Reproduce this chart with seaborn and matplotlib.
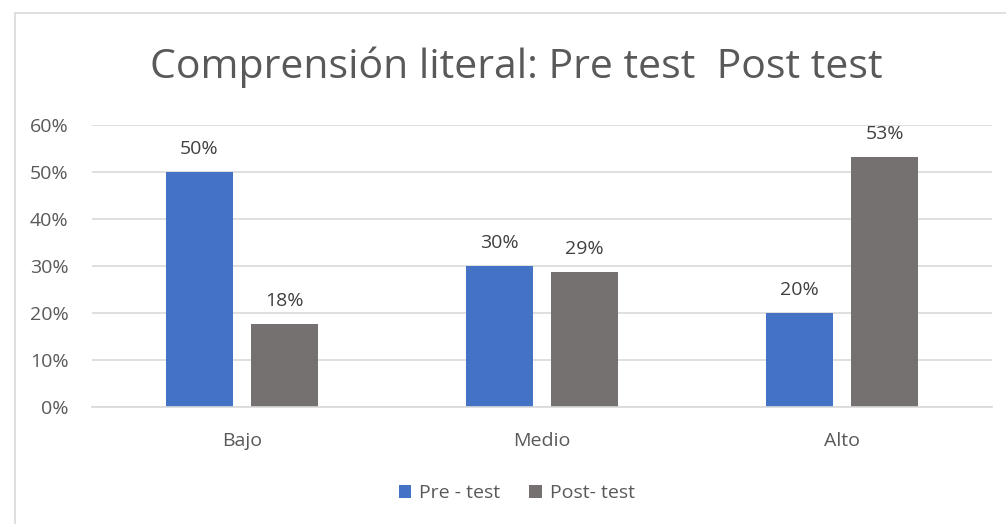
import matplotlib
matplotlib.use("Agg")
import matplotlib.pyplot as plt
import seaborn as sns
import pandas as pd
from matplotlib.patches import Rectangle
from matplotlib.ticker import PercentFormatter

categories = ["Bajo", "Medio", "Alto"]
series_names = ["Pre - test", "Post- test"]
pre_test = [0.50, 0.30, 0.20]
post_test = [0.176, 0.288, 0.532]
y_ticks = [0, 0.1, 0.2, 0.3, 0.4, 0.5, 0.6]
title = "Comprensión literal: Pre test  Post test"

df = pd.DataFrame({
    "Nivel": categories * 2,
    "Serie": [series_names[0]] * 3 + [series_names[1]] * 3,
    "Valor": pre_test + post_test,
})

sns.set_theme(style="white")
plt.rcParams["font.family"] = ["Open Sans", "DejaVu Sans"]

text_color = "#595959"
grid_color = "#d9d9d9"
colors = {"Pre - test": "#4472c4", "Post- test": "#767171"}
fs = 14

fig = plt.figure(figsize=(10.06, 5.24), dpi=100)
ax = fig.add_axes([92 / 1006, 117 / 524, 900 / 1006, 282 / 524])

sns.barplot(data=df, x="Nivel", y="Valor", hue="Serie", palette=colors,
            width=0.57, gap=0.22, ax=ax, legend=True, saturation=1,
            linewidth=0)

ax.set_ylim(0, 0.6)
ax.set_xlim(-0.5, 2.5)
ax.set_yticks(y_ticks)
ax.yaxis.set_major_formatter(PercentFormatter(1.0, decimals=0))
ax.grid(axis="y", color=grid_color, linewidth=1.2)
ax.set_axisbelow(True)
for s in ["top", "right", "left"]:
    ax.spines[s].set_visible(False)
ax.spines["bottom"].set_color(grid_color)
ax.spines["bottom"].set_linewidth(1.2)
ax.tick_params(axis="both", length=0, colors=text_color, labelsize=fs)
ax.tick_params(axis="y", pad=17)
ax.tick_params(axis="x", pad=18)
ax.set_xlabel("")
ax.set_ylabel("")

for cont in ax.containers:
    ax.bar_label(cont, labels=[f"{v*100:.0f}%" for v in cont.datavalues],
                 padding=10, color="#404040", fontsize=fs)

leg = ax.legend(loc="center", bbox_to_anchor=(0.472, -0.305), ncol=2, frameon=False,
                fontsize=fs, handlelength=0.65, handleheight=0.65,
                handletextpad=0.4, columnspacing=1.5)
for t in leg.get_texts():
    t.set_color(text_color)

fig.text(516 / 1006, 1 - 67 / 524, title, ha="center", va="center",
         fontsize=29.5, color=text_color)

fig.patches.append(Rectangle((15 / 1006, -0.1), 1.2, (524 - 13) / 524 + 0.1,
                             transform=fig.transFigure, fill=False,
                             edgecolor="#d9d9d9", linewidth=1.2))

fig.savefig("out.png", dpi=100)
